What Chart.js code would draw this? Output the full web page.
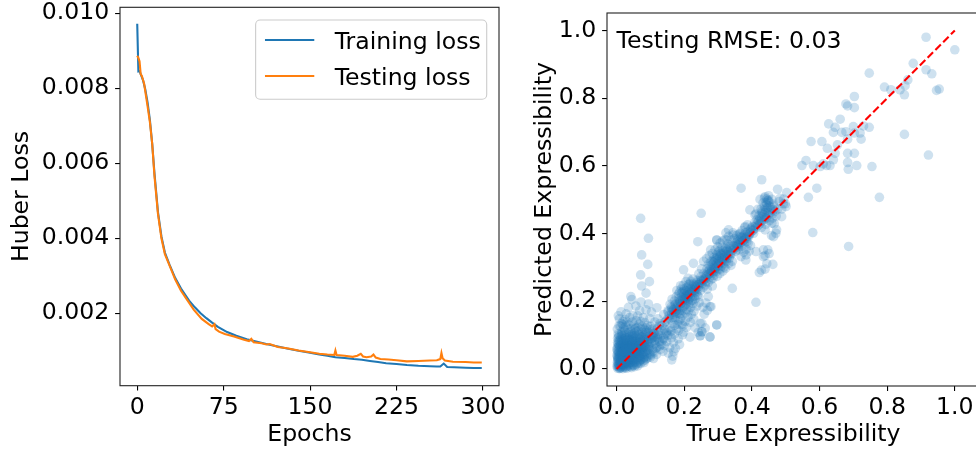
<!DOCTYPE html>
<html>
<head>
<meta charset="utf-8">
<script src="https://cdn.jsdelivr.net/npm/chart.js@4.4.1/dist/chart.umd.min.js"></script>
<style>
  html, body { margin: 0; padding: 0; background: #fff; overflow: hidden; }
  #wrap { position: relative; width: 976px; height: 454px; overflow: hidden; }
  canvas { position: absolute; top: 0; }
  #lossChart { left: 0; }
  #scatterChart { left: 505px; }
</style>
</head>
<body>
<div id="wrap">
  <canvas id="lossChart" width="510" height="454"></canvas>
  <canvas id="scatterChart" width="485" height="454"></canvas>
</div>
<script>
// left panel: loss curves
const trainEpochs = [0, 1, 2, 3, 5, 7, 9, 11, 13, 15, 18, 21, 24, 28, 33, 38, 45, 50, 55, 60, 65, 70, 78, 86, 95, 104, 112, 120, 130, 140, 150, 158, 165, 172, 180, 188, 195, 202, 209, 216, 225, 234, 244, 254, 260, 263, 266, 269, 275, 285, 292, 299];
const trainLoss = [0.00972, 0.00845, 0.00846, 0.00838, 0.00822, 0.00797, 0.00762, 0.00715, 0.00652, 0.00572, 0.00470, 0.00405, 0.00362, 0.00330, 0.00294, 0.00266, 0.00234, 0.00216, 0.00200, 0.00187, 0.00175, 0.00164, 0.00150, 0.00140, 0.00131, 0.00124, 0.00118, 0.00113, 0.00106, 0.00100, 0.00095, 0.00090, 0.00087, 0.00083, 0.00081, 0.00078, 0.00076, 0.00073, 0.00070, 0.00067, 0.00065, 0.00062, 0.00060, 0.00059, 0.00058, 0.00058, 0.00066, 0.00057, 0.00056, 0.00055, 0.00054, 0.00054];

const testEpochs = [0, 1, 2, 3, 4, 6, 7, 9, 11, 13, 15, 18, 21, 24, 28, 33, 38, 42, 49, 56, 62, 65, 67, 68, 71, 76, 84, 92, 97, 99, 101, 108, 112, 115, 122, 130, 140, 150, 158, 165, 171, 172, 173, 180, 187, 191, 194, 196, 199, 203, 205, 207, 211, 218, 225, 234, 244, 254, 260, 263, 264, 265, 267, 274, 285, 292, 299];
const testLoss = [0.00887, 0.00881, 0.00872, 0.00838, 0.00833, 0.00812, 0.00792, 0.00752, 0.00710, 0.00652, 0.00565, 0.00465, 0.00400, 0.00358, 0.00328, 0.00290, 0.00260, 0.00242, 0.00210, 0.00185, 0.00171, 0.00165, 0.00171, 0.00158, 0.00151, 0.00145, 0.00138, 0.00130, 0.00126, 0.00132, 0.00123, 0.00120, 0.00117, 0.00118, 0.00110, 0.00107, 0.00101, 0.00096, 0.00092, 0.00090, 0.00089, 0.00101, 0.00089, 0.00087, 0.00084, 0.00087, 0.00092, 0.00085, 0.00083, 0.00085, 0.00090, 0.00082, 0.00078, 0.00077, 0.00075, 0.00072, 0.00073, 0.00074, 0.00075, 0.00078, 0.00094, 0.00080, 0.00074, 0.00071, 0.00070, 0.00069, 0.00069];

const epochTicks = [0, 75, 150, 225, 300];
const lossTicks = [0.002, 0.004, 0.006, 0.008, 0.010];

// right panel: [true, predicted] expressibility pairs (estimated from the plot)
const scatterPairs = [
  [.003,.002],[.012,.004],[.021,.008],[.006,.011],[.015,.017],[.028,.006],[.018,.001],[.036,.012],[.047,.009],[.031,.021],
  [.058,.013],[.067,.022],[.052,.019],[.079,.024],[.009,.006],[.024,.015],[.041,.018],[.063,.027],[.088,.031],[.002,.019],
  [.004,.028],[.011,.033],[.019,.026],[.027,.031],[.038,.027],[.049,.034],[.057,.039],[.071,.033],[.083,.042],[.098,.044],
  [.001,.041],[.014,.047],[.022,.038],[.033,.049],[.043,.041],[.054,.052],[.062,.044],[.074,.051],[.091,.055],[.108,.052],
  [.008,.039],[.017,.054],[.029,.043],[.039,.056],[.051,.046],[.061,.058],[.078,.048],[.097,.064],[.116,.061],[.005,.052],
  [.002,.063],[.013,.061],[.024,.069],[.034,.062],[.044,.072],[.053,.064],[.064,.071],[.072,.062],[.084,.073],[.093,.068],
  [.006,.072],[.015,.081],[.023,.059],[.031,.078],[.042,.066],[.056,.079],[.066,.061],[.077,.082],[.086,.064],[.103,.079],
  [.011,.069],[.021,.083],[.032,.071],[.046,.084],[.052,.073],[.068,.086],[.075,.074],[.112,.084],[.121,.092],[.094,.088],
  [.003,.091],[.012,.094],[.023,.101],[.034,.092],[.045,.103],[.055,.091],[.065,.104],[.074,.095],[.085,.102],[.104,.099],
  [.007,.101],[.016,.112],[.026,.093],[.036,.108],[.047,.094],[.058,.112],[.063,.092],[.082,.091],[.093,.108],[.111,.106],
  [.008,.001],[.016,.009],[.025,.003],[.033,.008],[.044,.004],[.053,.007],[.011,.013],[.019,.021],[.029,.016],[.039,.019],
  [.048,.025],[.057,.028],[.066,.017],[.003,.024],[.012,.027],[.023,.034],[.035,.037],[.045,.031],[.055,.043],[.068,.036],
  [.007,.034],[.018,.042],[.027,.051],[.037,.045],[.048,.061],[.059,.054],[.069,.049],[.004,.046],[.013,.056],[.021,.064],
  [.032,.057],[.041,.063],[.051,.069],[.061,.066],[.071,.072],[.009,.061],[.018,.071],[.028,.078],[.038,.083],[.049,.081],
  [.059,.076],[.003,.079],[.011,.086],[.022,.088],[.033,.086],[.043,.091],[.054,.098],[.017,.099],[.006,.084],[.076,.058],
  [.005,.006],[.014,.012],[.022,.019],[.031,.027],[.042,.034],[.009,.022],[.018,.031],[.026,.041],[.035,.051],[.044,.058],
  [.004,.035],[.014,.039],[.024,.048],[.032,.064],[.007,.048],[.016,.062],[.025,.074],[.038,.071],[.047,.043],[.028,.024],
  [.006,.015],[.013,.019],[.021,.012],[.029,.011],[.037,.023],[.046,.014],[.054,.022],[.062,.009],[.071,.016],[.081,.019],
  [.004,.031],[.016,.036],[.025,.028],[.034,.033],[.043,.028],[.052,.036],[.063,.035],[.073,.041],[.082,.036],[.091,.047],
  [.002,.053],[.010,.049],[.019,.047],[.028,.056],[.036,.042],[.046,.051],[.056,.047],[.066,.053],[.079,.058],[.088,.061],
  [.005,.065],[.014,.072],[.023,.066],[.031,.073],[.040,.077],[.049,.068],[.058,.069],[.067,.078],[.081,.068],[.096,.074],
  [.008,.081],[.017,.089],[.027,.085],[.037,.096],[.048,.088],[.057,.083],[.069,.095],[.078,.087],[.089,.095],[.101,.089],
  [.004,.104],[.014,.101],[.028,.107],[.039,.101],[.052,.106],[.067,.101],[.077,.108],[.087,.112],[.097,.098],[.109,.095],
  [.010,.002],[.019,.005],[.030,.002],[.040,.007],[.050,.011],[.060,.018],[.070,.027],[.080,.032],[.090,.038],[.100,.035],
  [.003,.012],[.012,.022],[.020,.029],[.026,.037],[.034,.044],[.040,.049],[.047,.056],[.053,.058],[.060,.063],[.064,.057],
  [.001,.008],[.009,.014],[.017,.013],[.026,.019],[.034,.016],[.043,.021],[.051,.027],[.059,.033],[.068,.041],[.077,.044],
  [.086,.052],[.095,.057],[.002,.036],[.010,.042],[.019,.038],[.027,.046],[.036,.053],[.045,.047],[.053,.055],[.062,.051],
  [.070,.057],[.079,.065],[.087,.069],[.001,.058],[.009,.067],[.018,.063],[.027,.061],[.035,.068],[.044,.065],[.054,.075],
  [.063,.081],[.072,.079],[.083,.081],[.092,.083],[.004,.074],[.012,.078],[.020,.076],[.029,.091],[.039,.088],[.048,.099],
  [.059,.096],[.070,.089],[.080,.099],[.006,.094],[.015,.106],[.024,.114],[.033,.118],[.043,.111],[.053,.118],[.064,.113],
  [.073,.118],[.084,.108],[.099,.116],[.107,.104],[.115,.094],[.124,.101],[.013,.044],[.021,.051],[.030,.058],[.038,.064],
  [.046,.071],[.057,.062],[.067,.068],[.075,.066],[.007,.027],[.016,.024],[.024,.022],[.033,.029],[.041,.037],[.050,.041],
  [.058,.048],[.065,.045],[.073,.028],[.084,.027],[.092,.033],[.101,.041],[.106,.058],[.113,.076],[.096,.081],[.088,.088],
  [.002,.118],[.011,.127],[.021,.121],[.031,.138],[.042,.119],[.051,.131],[.062,.123],[.071,.141],[.082,.117],[.091,.128],
  [.008,.148],[.019,.141],[.038,.152],[.058,.143],[.079,.152],[.101,.126],[.113,.139],[.028,.163],[.048,.158],[.068,.172],
  [.005,.157],[.013,.169],[.035,.182],[.057,.186],[.087,.175],[.094,.192],[.072,.198],[.045,.205],[.103,.168],[.119,.181],
  [.015,.134],[.083,.137],[.098,.149],[.062,.157],[.025,.146],
  [.007,.128],[.018,.132],[.027,.127],[.036,.131],[.046,.139],[.056,.121],[.066,.132],[.076,.126],[.088,.122],[.106,.118],
  [.115,.101],[.122,.088],[.119,.064],[.132,.072],[.138,.091],[.143,.103],[.129,.058],[.111,.048],[.133,.114],[.109,.112],
  [.118,.043],[.128,.068],[.137,.052],[.148,.081],[.131,.098],[.157,.063],[.124,.111],[.142,.118],[.151,.099],[.109,.031],
  [.135,.083],[.162,.092],[.171,.104],[.158,.121],[.166,.135],[.146,.141],[.127,.127],[.178,.118],[.184,.142],[.173,.152],
  [.139,.161],[.152,.168],[.163,.178],[.176,.171],[.188,.163],[.147,.107],[.168,.078],[.182,.089],[.193,.132],[.122,.148],
  [.114,.072],[.105,.091],[.126,.081],[.141,.069],[.153,.047],[.174,.061],[.186,.072],[.195,.101],[.161,.112],[.169,.051],
  [.152,.172],[.161,.183],[.168,.161],[.174,.192],[.179,.175],[.185,.201],[.188,.184],[.192,.212],[.196,.195],[.199,.223],
  [.203,.205],[.206,.231],[.209,.214],[.212,.242],[.215,.221],[.218,.198],[.221,.236],[.224,.213],[.227,.251],[.231,.228],
  [.234,.244],[.238,.262],[.241,.236],[.245,.254],[.183,.221],[.191,.236],[.197,.247],[.205,.258],[.211,.268],[.186,.162],
  [.194,.173],[.201,.186],[.207,.176],[.213,.191],[.219,.182],[.226,.194],[.232,.207],[.239,.218],[.176,.213],[.171,.201],
  [.158,.191],[.164,.206],[.178,.232],[.189,.246],[.202,.201],[.208,.219],[.214,.207],[.195,.228],[.222,.224],[.216,.252],
  [.229,.238],[.236,.226],[.243,.213],[.248,.232],[.173,.145],[.181,.132],[.189,.148],[.196,.128],[.203,.141],[.211,.153],
  [.221,.162],[.229,.171],[.165,.152],[.183,.114],[.198,.109],[.207,.123],[.218,.138],[.228,.148],[.237,.186],[.244,.196],
  [.155,.158],[.162,.168],[.169,.176],[.175,.183],[.181,.191],[.187,.198],[.193,.204],[.198,.211],[.204,.216],[.209,.225],
  [.214,.232],[.219,.238],[.225,.244],[.231,.248],[.236,.255],[.242,.243],[.247,.262],[.184,.208],[.192,.224],[.201,.231],
  [.207,.241],[.213,.249],[.196,.183],[.205,.192],[.212,.201],[.218,.211],[.224,.203],[.231,.216],[.178,.164],[.187,.172],
  [.199,.236],[.186,.227],[.171,.188],[.166,.174],[.219,.259],[.226,.266],[.233,.234],[.204,.166],[.213,.172],[.194,.158],
  [.121,.121],[.128,.134],[.134,.128],[.141,.137],[.149,.146],[.156,.149],[.163,.161],[.171,.167],[.177,.179],[.183,.186],
  [.189,.193],[.195,.201],[.201,.207],[.207,.213],[.213,.218],[.218,.226],[.223,.229],[.229,.233],[.235,.239],[.241,.249],
  [.246,.251],[.251,.258],[.257,.261],[.263,.266],[.268,.276],[.274,.281],[.279,.286],[.285,.291],[.291,.299],[.297,.303],
  [.302,.311],[.308,.316],[.314,.322],[.319,.327],[.325,.333],[.331,.338],[.337,.343],[.343,.351],[.349,.356],[.355,.361],
  [.361,.367],[.367,.373],[.373,.378],[.379,.384],[.385,.391],[.391,.398],[.397,.404],[.404,.411],[.411,.416],[.417,.423],
  [.423,.429],[.429,.436],[.436,.441],[.442,.448],[.448,.455],[.454,.461],[.141,.089],[.151,.114],[.158,.101],[.172,.129],
  [.232,.122],[.241,.108],[.252,.135],[.259,.162],[.268,.173],[.247,.098],[.262,.121],[.276,.095],[.296,.130],[.271,.214],
  [.255,.182],[.264,.195],[.279,.184],[.252,.110],
  [.252,.262],[.258,.283],[.263,.271],[.267,.296],[.272,.281],[.276,.305],[.281,.292],[.284,.318],[.288,.301],[.292,.326],
  [.296,.312],[.299,.335],[.303,.318],[.307,.341],[.311,.326],[.315,.349],[.318,.331],[.322,.356],[.326,.338],[.331,.347],
  [.262,.248],[.271,.256],[.279,.264],[.287,.276],[.294,.288],[.301,.296],[.309,.303],[.317,.311],[.324,.318],[.333,.327],
  [.257,.318],[.266,.326],[.274,.335],[.283,.341],[.291,.352],[.299,.361],[.306,.372],[.313,.378],[.321,.383],[.285,.268],
  [.297,.274],[.305,.282],[.314,.289],[.322,.297],[.338,.306],[.342,.318],[.268,.236],[.283,.245],[.251,.296],[.243,.281],
  [.329,.369],[.337,.355],[.341,.341],[.346,.363],[.278,.352],[.296,.381],[.323,.402],[.331,.392],[.249,.272],[.302,.346],
  [.253,.252],[.259,.266],[.265,.279],[.269,.286],[.275,.293],[.279,.301],[.283,.309],[.287,.315],[.291,.319],[.295,.327],
  [.299,.324],[.304,.331],[.308,.336],[.312,.339],[.316,.342],[.321,.347],[.325,.351],[.329,.356],[.334,.361],[.338,.366],
  [.271,.309],[.279,.318],[.288,.329],[.296,.338],[.304,.351],[.312,.359],[.275,.271],[.284,.283],[.292,.297],[.301,.306],
  [.311,.314],[.319,.322],[.327,.328],[.336,.336],[.256,.241],[.264,.258],[.289,.289],[.306,.294],[.318,.301],[.331,.311],
  [.352,.348],[.357,.366],[.361,.352],[.365,.381],[.369,.362],[.373,.391],[.377,.371],[.381,.402],[.385,.385],[.389,.372],
  [.356,.376],[.363,.398],[.371,.409],[.379,.418],[.387,.426],[.348,.385],[.355,.395],[.368,.332],[.376,.345],[.383,.354],
  [.391,.392],[.396,.365],[.402,.421],[.408,.432],[.415,.441],[.421,.452],[.426,.436],[.431,.461],[.436,.447],[.439,.472],
  [.443,.485],[.447,.463],[.451,.493],[.455,.478],[.459,.501],[.463,.487],[.468,.466],[.472,.452],[.476,.472],[.481,.495],
  [.444,.502],[.437,.505],[.449,.512],[.433,.491],[.418,.472],[.412,.458],[.428,.418],[.441,.427],[.452,.438],[.461,.446],
  [.466,.429],[.488,.472],[.494,.502],[.499,.488],[.396,.412],[.405,.401],[.383,.337],[.392,.348],[.339,.381],[.344,.402],
  [.447,.352],[.439,.335],[.451,.341],[.458,.394],[.444,.311],[.428,.292],[.471,.401],
  [.352,.371],[.358,.383],[.364,.372],[.369,.388],[.374,.379],[.378,.396],[.382,.389],[.387,.405],[.393,.398],[.398,.416],
  [.403,.409],[.409,.421],[.414,.428],[.419,.437],[.424,.445],[.429,.449],[.434,.456],[.438,.462],[.442,.468],[.446,.476],
  [.451,.482],[.456,.471],[.461,.458],[.466,.481],[.442,.491],[.447,.497],[.437,.481],[.427,.473],[.359,.358],[.366,.391],
  [.915,.980],[1.0,.943],[.877,.903],[.747,.874],[.915,.884],[.932,.872],[.861,.854],[.851,.810],[.792,.833],[.838,.825],
  [.811,.825],[.946,.823],[.954,.827],[.703,.805],[.678,.783],[.683,.777],[.703,.772],[.661,.738],[.627,.724],[.646,.714],
  [.700,.716],[.730,.718],[.747,.714],[.641,.699],[.666,.699],[.678,.701],[.703,.697],[.720,.697],[.851,.693],[.575,.672],
  [.607,.672],[.683,.679],[.723,.679],[.623,.652],[.653,.662],[.646,.637],[.683,.637],[.703,.637],[.641,.618],[.683,.610],
  [.560,.616],[.548,.601],[.582,.601],[.602,.598],[.631,.601],[.685,.590],[.710,.601],[.755,.598],[.922,.632],[.592,.534],
  [.567,.507],[.777,.507],[.580,.403],[.686,.362],[.853,.837],[.611,.606],[.621,.601],
  [.429,.559],[.368,.534],[.476,.531],[.503,.521],[.439,.509],[.424,.501],[.449,.499],[.483,.504],[.493,.488],[.501,.480],
  [.394,.470],[.429,.465],[.464,.470],[.488,.450],[.409,.455],[.444,.445],[.459,.431],[.473,.411],[.439,.411],[.464,.391],
  [.380,.421],[.365,.401],[.345,.396],[.331,.411],[.326,.381],[.296,.381],[.355,.367],[.385,.376],[.412,.347],[.434,.352],
  [.434,.332],[.382,.322],[.462,.309],[.439,.295],[.422,.285],[.342,.238],[.412,.197],[.296,.130],[.276,.094],[.247,.098],
  [.252,.110],[.247,.135],[.276,.184],[.250,.460],[.240,.376],[.094,.386],[.071,.445],[.074,.337],[.092,.309],[.071,.278],
  [.097,.258],[.074,.245],[.087,.224],[.042,.214],[.198,.293],[.227,.312],[.163,.027],[.166,.038],[.217,.094]
];
const identityLine = [[0, 0], [1, 1]];
const exprTicks = [0, 0.2, 0.4, 0.6, 0.8, 1.0];
const rmseText = "Testing RMSE: 0.03";

const FS = 23.6;
Chart.defaults.font.family = "'DejaVu Sans', sans-serif";
Chart.defaults.font.size = FS;
Chart.defaults.color = "#000";

function fixBox(w, h) {
  return function (scale) {
    if (scale.isHorizontal()) scale.height = h;
    else scale.width = w;
    scale.paddingLeft = scale.paddingRight = scale.paddingTop = scale.paddingBottom = 0;
  };
}

function axis(opts) {
  return {
    type: "linear",
    min: opts.min,
    max: opts.max,
    afterBuildTicks: (s) => { s.ticks = opts.ticks.map((v) => ({ value: v })); },
    afterFit: opts.fit,
    ticks: { padding: opts.pad, autoSkip: false, maxRotation: 0, callback: opts.fmt },
    grid: { drawOnChartArea: false, drawTicks: true, tickLength: 4.9, color: "#000", lineWidth: 1.1 },
    border: { display: false },
    title: { display: true, text: opts.title, padding: opts.titlePad },
  };
}

const framePlugin = {
  id: "frame",
  afterDraw(chart) {
    const { ctx, chartArea: a } = chart;
    ctx.save();
    ctx.strokeStyle = "#222";
    ctx.lineWidth = 1.1;
    ctx.strokeRect(a.left, a.top, a.right - a.left, a.bottom - a.top);
    ctx.restore();
  },
};

const lossLegend = {
  id: "lossLegend",
  afterDraw(chart) {
    const { ctx, chartArea: a } = chart;
    ctx.save();
    ctx.font = FS + "px 'DejaVu Sans'";
    const sets = chart.data.datasets;
    const textW = Math.max(...sets.map((d) => ctx.measureText(d.label).width));
    const w = 9.4 + 47.2 + 18.9 + textW + 9.4;
    const h = 79.3;
    const x0 = a.right - 12.3 - w;
    const y0 = a.top + 12.7;
    ctx.beginPath();
    ctx.roundRect(x0, y0, w, h, 4.5);
    ctx.fillStyle = "rgba(255,255,255,0.8)";
    ctx.fill();
    ctx.strokeStyle = "#cccccc";
    ctx.lineWidth = 1.1;
    ctx.stroke();
    sets.forEach((d, i) => {
      const y = y0 + 20 + i * 36;
      ctx.beginPath();
      ctx.moveTo(x0 + 10.4, y);
      ctx.lineTo(x0 + 10.4 + 47.2, y);
      ctx.lineCap = "square";
      ctx.strokeStyle = d.borderColor;
      ctx.lineWidth = 2.1;
      ctx.stroke();
      ctx.fillStyle = "#000";
      ctx.textBaseline = "alphabetic";
      ctx.fillText(d.label, x0 + 79, y + 9.3);
    });
    ctx.restore();
  },
};

const rmseLabel = {
  id: "rmseLabel",
  afterDraw(chart) {
    const { ctx, chartArea: a } = chart;
    ctx.save();
    ctx.font = FS + "px 'DejaVu Sans'";
    ctx.fillStyle = "#000";
    ctx.textBaseline = "alphabetic";
    ctx.fillText(rmseText, a.left + 9.5, a.top + 34.7);
    ctx.restore();
  },
};

new Chart(document.getElementById("lossChart").getContext("2d"), {
  type: "line",
  data: {
    datasets: [
      {
        label: "Training loss",
        data: trainEpochs.map((e, i) => ({ x: e, y: trainLoss[i] })),
        borderColor: "#1f77b4",
        borderWidth: 2.1,
        pointRadius: 0,
        tension: 0,
        order: 2,
      },
      {
        label: "Testing loss",
        data: testEpochs.map((e, i) => ({ x: e, y: testLoss[i] })),
        borderColor: "#ff7f0e",
        borderWidth: 2.1,
        pointRadius: 0,
        tension: 0,
        order: 1,
      },
    ],
  },
  options: {
    responsive: false,
    animation: false,
    events: [],
    layout: { padding: { left: 0, top: 7.3, right: 11, bottom: 0 } },
    plugins: { legend: { display: false }, tooltip: { enabled: false } },
    scales: {
      x: axis({ min: -14.95, max: 313.95, ticks: epochTicks, fit: fixBox(120, 68.3), pad: 2.7,
                fmt: (v) => String(v), title: "Epochs", titlePad: { top: 0, bottom: 4.8 } }),
      y: axis({ min: 0.00007, max: 0.01016, ticks: lossTicks, fit: fixBox(120, 68.3), pad: 5.8,
                fmt: (v) => v.toFixed(3), title: "Huber Loss", titlePad: { top: 7.9, bottom: 0 } }),
    },
  },
  plugins: [framePlugin, lossLegend],
});

new Chart(document.getElementById("scatterChart").getContext("2d"), {
  type: "scatter",
  data: {
    datasets: [
      {
        label: "identity",
        data: identityLine.map(([x, y]) => ({ x, y })),
        showLine: true,
        borderColor: "#ff0000",
        borderWidth: 2.1,
        borderDash: [7.7, 3.3],
        pointRadius: 0,
        order: 0,
      },
      {
        label: "test",
        data: scatterPairs.map(([x, y]) => ({ x, y })),
        backgroundColor: "rgba(31,119,180,0.22)",
        borderWidth: 0,
        pointRadius: 4.8,
        order: 1,
      },
    ],
  },
  options: {
    responsive: false,
    animation: false,
    events: [],
    layout: { padding: { left: 0, top: 13, right: 10, bottom: 0 } },
    plugins: { legend: { display: false }, tooltip: { enabled: false } },
    scales: {
      x: axis({ min: -0.0285, max: 1.0745, ticks: exprTicks, fit: fixBox(102, 68), pad: 2.7,
                fmt: (v) => v.toFixed(1), title: "True Expressibility", titlePad: { top: 0, bottom: 4.8 } }),
      y: axis({ min: -0.0503, max: 1.0517, ticks: exprTicks, fit: fixBox(102, 68), pad: 5.8,
                fmt: (v) => v.toFixed(1), title: "Predicted Expressibility", titlePad: { top: 25.2, bottom: 0 } }),
    },
  },
  plugins: [framePlugin, rmseLabel],
});
</script>
</body>
</html>
